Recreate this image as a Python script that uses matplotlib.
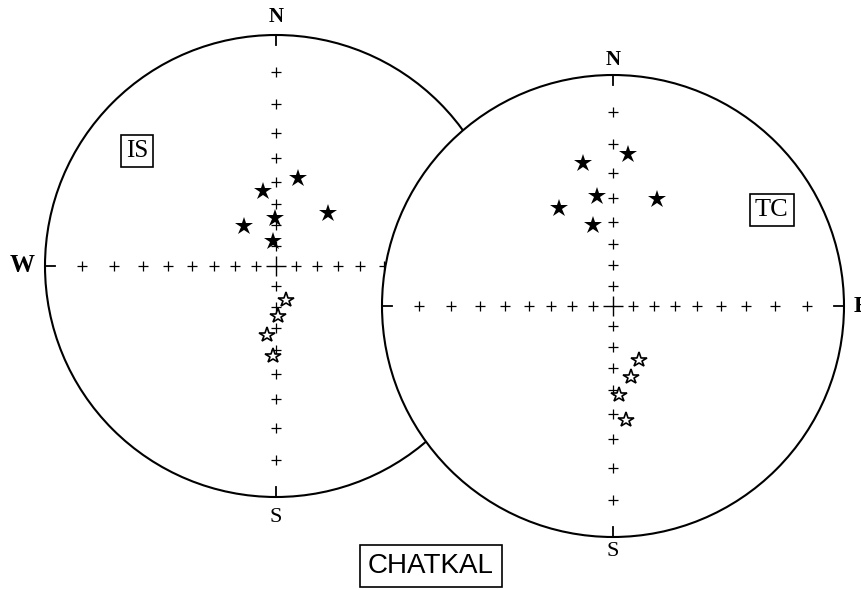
import numpy as np
import matplotlib
matplotlib.use('Agg')
import matplotlib.pyplot as plt
from matplotlib.patches import Circle

# site-mean directions, in situ (IS) and tilt corrected (TC)
# negative inclination = reversed polarity (open symbols)
is_dec = [14.0, 350.2, 44.5, 358.8, 321.3, 353.2, 163.6, 177.7, 187.4, 181.9]
is_inc = [47.1, 53.5, 54.4, 66.5, 65.0, 77.6, -72.6, -65.6, -56.5, -47.4]

tc_dec = [5.6, 348.2, 351.7, 22.4, 331.1, 346.1, 154.3, 165.8, 176.1, 173.5]
tc_inc = [23.1, 25.4, 38.6, 36.8, 38.3, 50.3, -60.9, -54.8, -47.8, -37.2]

grid_incs = [10, 20, 30, 40, 50, 60, 70, 80]

SERIF = 'Liberation Serif'
W, H = 862, 590


def wulff(dec, inc):
    # stereographic (Wulff) projection onto the unit circle
    dec = np.radians(np.asarray(dec, dtype=float))
    inc = np.abs(np.asarray(inc, dtype=float))
    r = np.tan(np.radians(90 - inc) / 2)
    return r * np.sin(dec), r * np.cos(dec)


def make_net(cx, cy, R, zorder):
    ax = plt.gcf().add_axes([(cx - R) / W, (H - cy - R) / H, 2 * R / W, 2 * R / H])
    ax.set_xlim(-1, 1)
    ax.set_ylim(-1, 1)
    ax.set_zorder(zorder)
    ax.axis('off')
    ax.add_patch(Circle((0, 0), 1, facecolor='white', edgecolor='black',
                        lw=1.5, clip_on=False, zorder=1))
    return ax


def draw_grid(ax, R, sides):
    # small crosses every 10 degrees along N-S and E-W
    for az in [0, 90, 180, 270]:
        x, y = wulff([az] * len(grid_incs), grid_incs)
        ax.plot(x, y, '+', color='black', ms=6.5, mew=0.9, clip_on=False, zorder=2)
    ax.plot(0, 0, '+', color='black', ms=14, mew=1.0, zorder=2)
    # short ticks at the cardinal points
    t = 10 / R
    for side in sides:
        if side == 'N':
            ax.plot([0, 0], [1, 1 - t], color='black', lw=1.3, zorder=2)
        elif side == 'S':
            ax.plot([0, 0], [-1, -1 + t], color='black', lw=1.3, zorder=2)
        elif side == 'W':
            ax.plot([-1, -1 + t], [0, 0], color='black', lw=1.3, zorder=2)
        elif side == 'E':
            ax.plot([1, 1 - t], [0, 0], color='black', lw=1.3, zorder=2)


def draw_directions(ax, dec, inc):
    x, y = wulff(dec, inc)
    down = np.asarray(inc) >= 0
    ax.plot(x[down], y[down], '*', color='black', ms=13.5, mew=0, zorder=3)
    ax.plot(x[~down], y[~down], '*', mfc='white', mec='black', ms=11.5, mew=1.2, zorder=3)


fig = plt.figure(figsize=(W / 100, H / 100), dpi=100)

# in situ net
R1 = 231
ax1 = make_net(276, 266, R1, 1)
draw_grid(ax1, R1, ['N', 'S', 'W'])
draw_directions(ax1, is_dec, is_inc)
ax1.text(0, 1 + 18 / R1, 'N', ha='center', va='center', fontsize=15,
         fontweight='bold', family=SERIF)
ax1.text(0, -1 - 21 / R1, 'S', ha='center', va='center', fontsize=16, family=SERIF)
ax1.text(-1 - 23 / R1, 0, 'W', ha='center', va='center', fontsize=18,
         fontweight='bold', family=SERIF)
ax1.text(-0.602, 0.498, 'IS', ha='center', va='center', fontsize=18, family=SERIF,
         bbox=dict(boxstyle='square,pad=0.2', fc='white', ec='black', lw=1.2))

# tilt-corrected net, drawn over the first one
R2 = 231
ax2 = make_net(613, 306, R2, 2)
draw_grid(ax2, R2, ['N', 'S', 'W', 'E'])
draw_directions(ax2, tc_dec, tc_inc)
ax2.text(0, 1 + 15 / R2, 'N', ha='center', va='center', fontsize=15,
         fontweight='bold', family=SERIF)
ax2.text(0, -1 - 14 / R2, 'S', ha='center', va='center', fontsize=16, family=SERIF)
ax2.text(1 + 10 / R2, 0, 'E', ha='left', va='center', fontsize=17,
         fontweight='bold', family=SERIF)
ax2.text(0.688, 0.416, 'TC', ha='center', va='center', fontsize=19, family=SERIF,
         bbox=dict(boxstyle='square,pad=0.2', fc='white', ec='black', lw=1.2))

fig.text(431 / W, 1 - 566 / H, 'CHATKAL', ha='center', va='center', fontsize=20,
         family='Liberation Sans',
         bbox=dict(boxstyle='square,pad=0.3', fc='white', ec='black', lw=1.2))

fig.savefig('out.png', dpi=100)
